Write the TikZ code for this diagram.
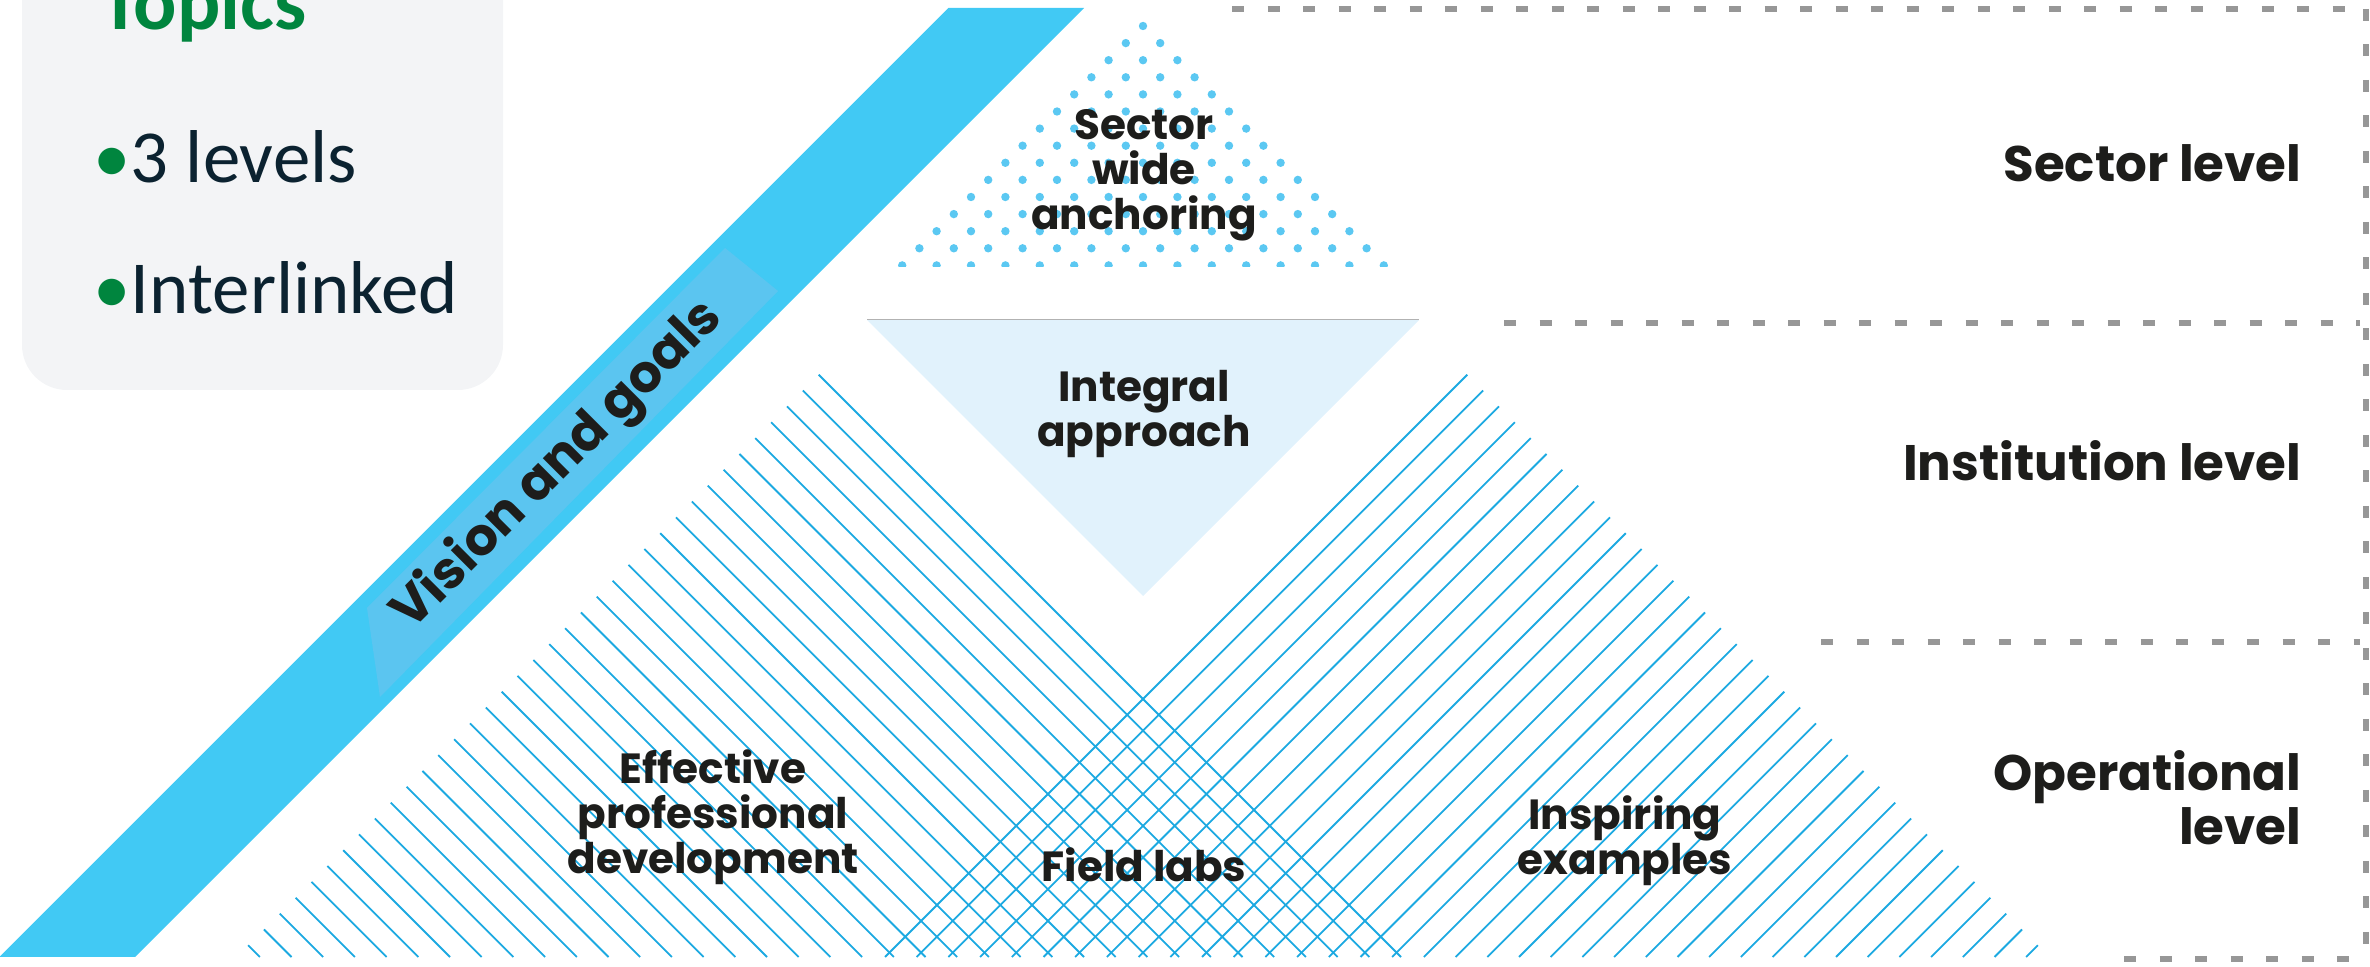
\documentclass[tikz,border=0pt]{standalone}
\usepackage{fontspec}
\setmainfont{Carlito}
\newfontfamily\diagfont{Poppins}
\usepackage{tikz}
\usetikzlibrary{positioning}

\definecolor{bandblue}{HTML}{41C9F4}
\definecolor{bandlight}{HTML}{5BC5F0}
\definecolor{hatchblue}{HTML}{1CA9E1}
\definecolor{dotblue}{HTML}{5BC8F2}
\definecolor{palecyan}{HTML}{E1F2FC}
\definecolor{boxgray}{HTML}{F3F4F6}
\definecolor{topicgreen}{HTML}{00853E}
\definecolor{inkblue}{HTML}{0B2230}
\definecolor{inkdark}{HTML}{1D1D1B}
\definecolor{dashgray}{HTML}{979797}

\begin{document}
\begin{tikzpicture}[x=0.1mm, y=0.1mm,
  hatch/.style={hatchblue, line width=0.18mm},
  levelline/.style={dashgray, line width=0.6mm, dash pattern=on 1.2mm off 2.35mm},
  lbl/.style={font=\diagfont\bfseries\fontsize{12}{12.8}\selectfont, text=inkdark, align=center, inner sep=0},
  levellbl/.style={font=\diagfont\bfseries\fontsize{14.2}{13.7}\selectfont, text=inkdark, align=right, inner sep=0, anchor=east},
  topic/.style={font=\fontsize{21.3}{24}\selectfont, text=inkblue, anchor=base west, inner sep=0}]
\useasboundingbox (0,0) rectangle (2370,-967);
\clip (0,0) rectangle (2370,-967);

% Topics box
\fill[boxgray, rounded corners=4.5mm] (22,80) rectangle (503,-390);
\node[anchor=base west, inner sep=0, font=\bfseries\fontsize{23}{26}\selectfont, text=topicgreen] (topics) at (100,-30) {Topics};
\node[topic] (levels) at (93,-183) {\textcolor{topicgreen}{•}3 levels};
\node[topic] (linked) at (93,-314) {\textcolor{topicgreen}{•}Interlinked};

% Vision band
\fill[bandblue] (948.5,-8) -- (1084,-8) -- (135,-957) -- (-0.5,-957) -- cycle;
\fill[bandlight] (725,-248) -- (778,-291) -- (380,-697) -- (367,-608) -- cycle;
\node[font=\diagfont\bfseries\fontsize{14.8}{18}\selectfont, text=inkdark, rotate=45, inner sep=0] (vision) at (558,-466) {Vision and goals};

% Sector dots
\begin{scope}
\clip (850,0) rectangle (1450,-267);
\foreach \r in {0,...,14}
  \foreach \j in {0,...,\r}
    \fill[dotblue] ({1143+(\j-0.5*\r)*34.4},{-26-17.1*\r}) circle (4.2);
\end{scope}

% Integral triangle
\fill[palecyan] (867,-320) -- (1419,-320) -- (1143,-596) -- cycle;
\draw[gray!60, line width=0.1mm] (867,-320) -- (1419,-320);

% Operational hatching
\foreach \k in {0,...,36}{
  \pgfmathsetmacro\len{582.3-15.85*\k}
  \draw[hatch] ({818.7-15.85*\k},{-374.7-15.85*\k}) -- ++(\len,-\len);
  \draw[hatch] ({1467.3+15.85*\k},{-374.7-15.85*\k}) -- ++(-\len,-\len);
}

% Level lines
\draw[levelline] (1232,-9) -- (2360,-9);
\draw[levelline] (2366,-9) -- (2366,-959);
\draw[levelline] (1504,-323) -- (2360,-323);
\draw[levelline] (1821,-642) -- (2360,-642);
\draw[levelline] (2124,-959) -- (2360,-959);

% Labels
\node[lbl] (sector) at (1144,-175) {Sector\\wide\\anchoring};
\node[lbl] (integral) at (1144,-414) {Integral\\approach};
\node[lbl] (effective) at (713,-817) {Effective\\professional\\development};
\node[lbl] (field) at (1144,-865) {Field labs};
\node[lbl] (inspiring) at (1625,-841) {Inspiring\\examples};

\node[levellbl] (sectorlvl) at (2302,-163) {Sector level};
\node[levellbl] (instlvl) at (2302,-461) {Institution level};
\node[levellbl] (oplvl) at (2302,-798) {Operational\\level};
\end{tikzpicture}
\end{document}
